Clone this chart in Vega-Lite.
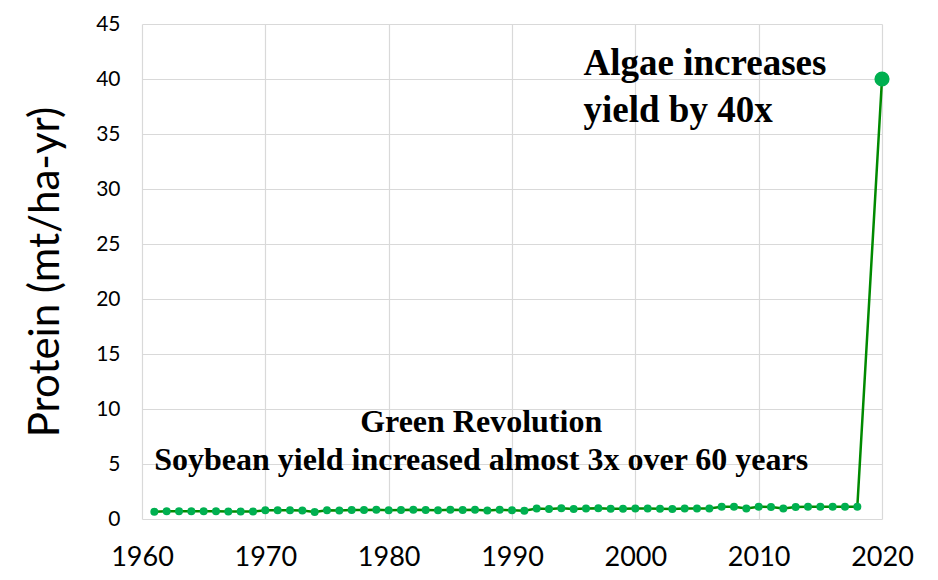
{
  "$schema": "https://vega.github.io/schema/vega-lite/v6.json",
  "autosize": "none",
  "width": 740,
  "height": 495,
  "padding": {"left": 142, "top": 24, "right": 56, "bottom": 61},
  "background": "white",
  "config": {
    "view": {"stroke": null},
    "axis": {"gridColor": "#d9d9d9", "gridWidth": 1.2, "domain": false, "ticks": false, "labelFont": "Lato", "labelColor": "#000000", "titleFont": "Lato", "titleColor": "#000000", "titleFontWeight": "normal", "labelFlush": false}
  },
  "datasets": {
    "yield": [
      {"year": 1961, "protein": 0.65}, {"year": 1962, "protein": 0.70}, {"year": 1963, "protein": 0.70},
      {"year": 1964, "protein": 0.70}, {"year": 1965, "protein": 0.70}, {"year": 1966, "protein": 0.70},
      {"year": 1967, "protein": 0.68}, {"year": 1968, "protein": 0.68}, {"year": 1969, "protein": 0.68},
      {"year": 1970, "protein": 0.80}, {"year": 1971, "protein": 0.80}, {"year": 1972, "protein": 0.80},
      {"year": 1973, "protein": 0.78}, {"year": 1974, "protein": 0.64}, {"year": 1975, "protein": 0.80},
      {"year": 1976, "protein": 0.78}, {"year": 1977, "protein": 0.82}, {"year": 1978, "protein": 0.82},
      {"year": 1979, "protein": 0.85}, {"year": 1980, "protein": 0.80}, {"year": 1981, "protein": 0.82},
      {"year": 1982, "protein": 0.84}, {"year": 1983, "protein": 0.82}, {"year": 1984, "protein": 0.80},
      {"year": 1985, "protein": 0.84}, {"year": 1986, "protein": 0.82}, {"year": 1987, "protein": 0.84},
      {"year": 1988, "protein": 0.78}, {"year": 1989, "protein": 0.84}, {"year": 1990, "protein": 0.80},
      {"year": 1991, "protein": 0.76}, {"year": 1992, "protein": 0.95}, {"year": 1993, "protein": 0.92},
      {"year": 1994, "protein": 0.97}, {"year": 1995, "protein": 0.90}, {"year": 1996, "protein": 0.95},
      {"year": 1997, "protein": 0.97}, {"year": 1998, "protein": 0.93}, {"year": 1999, "protein": 0.93},
      {"year": 2000, "protein": 0.95}, {"year": 2001, "protein": 0.95}, {"year": 2002, "protein": 0.93},
      {"year": 2003, "protein": 0.92}, {"year": 2004, "protein": 0.95}, {"year": 2005, "protein": 0.95},
      {"year": 2006, "protein": 0.95}, {"year": 2007, "protein": 1.12}, {"year": 2008, "protein": 1.12},
      {"year": 2009, "protein": 0.95}, {"year": 2010, "protein": 1.12}, {"year": 2011, "protein": 1.10},
      {"year": 2012, "protein": 0.95}, {"year": 2013, "protein": 1.10}, {"year": 2014, "protein": 1.12},
      {"year": 2015, "protein": 1.12}, {"year": 2016, "protein": 1.12}, {"year": 2017, "protein": 1.12},
      {"year": 2018, "protein": 1.12}, {"year": 2020, "protein": 40}
    ],
    "notes": [
      {"year": 1995.8, "protein": 40.36, "label": "Algae increases", "group": "algae"},
      {"year": 1995.8, "protein": 36.1, "label": "yield by 40x", "group": "algae"},
      {"year": 1987.5, "protein": 7.94, "label": "Green Revolution", "group": "green"},
      {"year": 1987.5, "protein": 4.45, "label": "Soybean yield increased almost 3x over 60 years", "group": "green"}
    ]
  },
  "layer": [
    {
      "data": {"name": "yield"},
      "mark": {"type": "line", "color": "#008a00", "strokeWidth": 2.5},
      "encoding": {
        "x": {"field": "year", "type": "quantitative", "scale": {"domain": [1960, 2020], "nice": false, "zero": false},
              "axis": {"values": [1960, 1970, 1980, 1990, 2000, 2010, 2020], "format": "d", "title": null, "labelFontSize": 27, "labelPadding": 25}},
        "y": {"field": "protein", "type": "quantitative", "scale": {"domain": [0, 45], "nice": false},
              "axis": {"values": [0, 5, 10, 15, 20, 25, 30, 35, 40, 45], "title": "Protein (mt/ha-yr)", "labelFontSize": 21, "labelPadding": 22, "titleFontSize": 42, "titlePadding": 28}}
      }
    },
    {
      "data": {"name": "yield"},
      "transform": [{"filter": "datum.year < 2019"}],
      "mark": {"type": "circle", "color": "#00b050", "opacity": 1, "size": 64},
      "encoding": {
        "x": {"field": "year", "type": "quantitative"},
        "y": {"field": "protein", "type": "quantitative"}
      }
    },
    {
      "data": {"name": "yield"},
      "transform": [{"filter": "datum.year > 2019"}],
      "mark": {"type": "circle", "color": "#00b050", "opacity": 1, "size": 230},
      "encoding": {
        "x": {"field": "year", "type": "quantitative"},
        "y": {"field": "protein", "type": "quantitative"}
      }
    },
    {
      "data": {"name": "notes"},
      "transform": [{"filter": "datum.group == 'algae'"}],
      "mark": {"type": "text", "align": "left", "baseline": "alphabetic", "font": "Liberation Serif", "fontWeight": "bold", "fontSize": 37, "color": "#000000"},
      "encoding": {
        "x": {"field": "year", "type": "quantitative"},
        "y": {"field": "protein", "type": "quantitative"},
        "text": {"field": "label"}
      }
    },
    {
      "data": {"name": "notes"},
      "transform": [{"filter": "datum.group == 'green'"}],
      "mark": {"type": "text", "align": "center", "baseline": "alphabetic", "font": "Liberation Serif", "fontWeight": "bold", "fontSize": 32, "color": "#000000"},
      "encoding": {
        "x": {"field": "year", "type": "quantitative"},
        "y": {"field": "protein", "type": "quantitative"},
        "text": {"field": "label"}
      }
    }
  ]
}
